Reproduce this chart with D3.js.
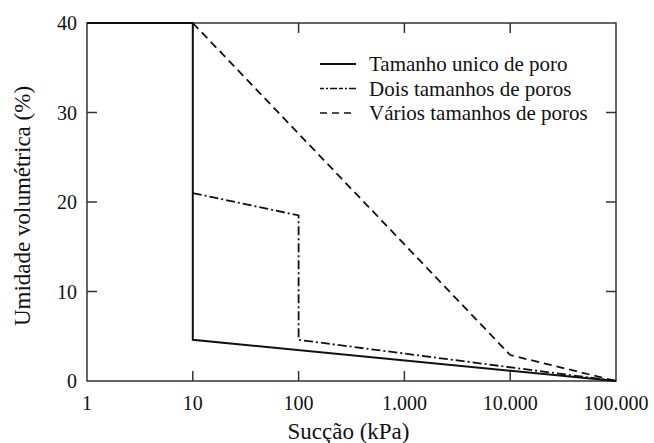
<!DOCTYPE html>
<html>
<head>
<meta charset="utf-8">
<script src="https://cdn.jsdelivr.net/npm/d3@7"></script>
<style>
  body { margin: 0; background: #fff; }
  #wrap { position: relative; width: 654px; height: 443px; }
  #wrap svg { position: absolute; left: 0; top: 0; }
  .lbl {
    position: absolute;
    white-space: nowrap;
    line-height: 1;
    font-family: "Liberation Serif", "Times New Roman", serif;
    color: #111;
  }
</style>
</head>
<body>
<div id="wrap"><svg id="chart" width="654" height="443"></svg></div>
<script>
// data
const xTicks = [1, 10, 100, 1000, 10000, 100000];
const xTickLabels = ['1', '10', '100', '1.000', '10.000', '100.000'];
const yTicks = [0, 10, 20, 30, 40];
const seriesNames = ['Tamanho unico de poro', 'Dois tamanhos de poros', 'Vários tamanhos de poros'];
const unicoPoro = [[1, 40], [10, 40], [10, 4.6], [100000, 0]];
const doisPoros = [[10, 21], [100, 18.5], [100, 4.6], [100000, 0]];
const variosPoros = [[10, 40], [10000, 2.9], [100000, 0]];
const dashes = ['none', '9,3,2,3', '8,5'];

const margin = {top: 23, right: 38, bottom: 62, left: 87};
const svg = d3.select('#chart');
const wrap = d3.select('#wrap');
const width = 654 - margin.left - margin.right;
const height = 443 - margin.top - margin.bottom;

// text goes in html so the serif font gets used
function label(txt, x, y, size, shiftX, rot) {
  return wrap.append('div')
      .attr('class', 'lbl')
      .style('left', x + 'px')
      .style('top', y + 'px')
      .style('font-size', size + 'px')
      .style('transform', `translate(${shiftX}%,-50%)` + (rot ? ` rotate(${rot}deg)` : ''))
      .text(txt);
}

const chart = svg.append('g')
    .attr('transform', `translate(${margin.left},${margin.top})`);

const xScale = d3.scaleLog().domain([1, 100000]).range([0, width]);
const yScale = d3.scaleLinear().domain([0, 40]).range([height, 0]);

// inward ticks on all four sides
const tickLen = 10;
const tickColor = '#333';
chart.selectAll('.xtick-b').data(xTicks.slice(1, -1)).join('line')
    .attr('x1', d => xScale(d)).attr('x2', d => xScale(d))
    .attr('y1', height).attr('y2', height - tickLen)
    .attr('stroke', tickColor).attr('stroke-width', 1.5);
chart.selectAll('.xtick-t').data(xTicks.slice(1, -1)).join('line')
    .attr('x1', d => xScale(d)).attr('x2', d => xScale(d))
    .attr('y1', 0).attr('y2', tickLen)
    .attr('stroke', tickColor).attr('stroke-width', 1.5);
chart.selectAll('.ytick-l').data(yTicks.slice(1, -1)).join('line')
    .attr('x1', 0).attr('x2', tickLen)
    .attr('y1', d => yScale(d)).attr('y2', d => yScale(d))
    .attr('stroke', tickColor).attr('stroke-width', 1.5);
chart.selectAll('.ytick-r').data(yTicks.slice(1, -1)).join('line')
    .attr('x1', width).attr('x2', width - tickLen)
    .attr('y1', d => yScale(d)).attr('y2', d => yScale(d))
    .attr('stroke', tickColor).attr('stroke-width', 1.5);

// frame
chart.append('rect')
    .attr('width', width).attr('height', height)
    .attr('fill', 'none').attr('stroke', tickColor).attr('stroke-width', 1.5);

// tick labels
xTicks.forEach((d, i) => label(xTickLabels[i], margin.left + xScale(d), margin.top + height + 22, 20, -50));
yTicks.forEach(d => label(d, margin.left - 10, margin.top + yScale(d), 20, -100));

// axis titles
label('Sucção (kPa)', margin.left + width / 2 - 3, 431, 23, -50);
label('Umidade volumétrica (%)', 22, margin.top + height / 2 + 4, 23, -50, -90);

// curves
const line = d3.line().x(d => xScale(d[0])).y(d => yScale(d[1]));
[unicoPoro, doisPoros, variosPoros].forEach((s, i) => {
  chart.append('path')
      .datum(s)
      .attr('d', line)
      .attr('fill', 'none')
      .attr('stroke', '#111')
      .attr('stroke-width', i === 0 ? 2 : 1.8)
      .attr('stroke-dasharray', dashes[i]);
});

// legend
seriesNames.forEach((name, i) => {
  const y = 64 + i * 24.5;
  svg.append('line')
      .attr('x1', 320).attr('x2', 356)
      .attr('y1', y).attr('y2', y)
      .attr('stroke', '#111')
      .attr('stroke-width', i === 0 ? 2 : 1.6)
      .attr('stroke-dasharray', i === 1 ? '4,2,2,2,7,2' : (i === 2 ? '7,5' : 'none'));
  label(name, 369, y, 21, 0);
});
</script>
</body>
</html>
